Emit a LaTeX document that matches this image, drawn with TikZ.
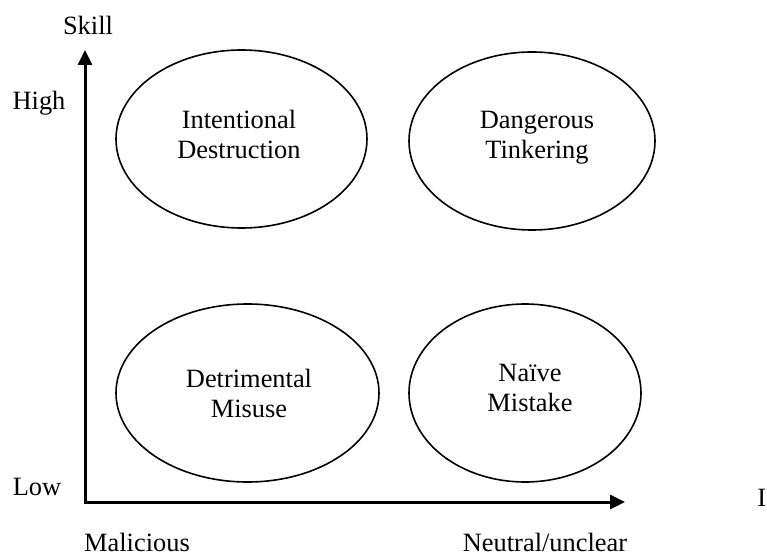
\documentclass[tikz,border=0pt]{standalone}
\usepackage{fontspec}
\setmainfont{Liberation Serif}
\usetikzlibrary{arrows.meta,shapes.geometric}
\begin{document}
\begin{tikzpicture}[x=0.5pt,y=-0.5pt,
  font=\fontsize{13.2pt}{15pt}\selectfont,
  axisline/.style={line width=1.5pt, line join=miter,
    {Triangle[length=7.5pt,width=7pt]}-{Triangle[length=7.5pt,width=7pt]}},
  zone/.style={draw, ellipse, line width=0.8pt, inner sep=0pt},
  lbl/.style={inner sep=0pt, align=center}]
\useasboundingbox (0,0) rectangle (767,556);

% axes
\coordinate (ytip) at (85,50);
\coordinate (orig) at (85,502);
\coordinate (xtip) at (625,502);
\draw[axisline] (ytip) -- (orig) -- (xtip);

% axis labels
\node[lbl] (skill) at (88,25) {Skill};
\node[lbl] (high) at (39,103) {High};
\node[lbl] (low) at (37,487) {Low};
\node[lbl] (mal) at (137,542) {Malicious};
\node[lbl] (neu) at (545,542) {Neutral/unclear};
\node[lbl, anchor=west] (intent) at (757,498) {I};

% quadrants
\node[zone, minimum width=125.5pt, minimum height=89pt] (e1) at (241.5,139) {};
\node[zone, minimum width=123pt, minimum height=89pt] (e2) at (532,141) {};
\node[zone, minimum width=131.5pt, minimum height=89pt] (e3) at (247.5,393) {};
\node[zone, minimum width=116pt, minimum height=89pt] (e4) at (525,393) {};

\node[lbl] (t1) at (239,134) {Intentional\\Destruction};
\node[lbl] (t2) at (537,138) {Dangerous\\Tinkering};
\node[lbl] (t3) at (249,393) {Detrimental\\Misuse};
\node[lbl] (t4) at (530,388) {Naïve\\Mistake};
\end{tikzpicture}
\end{document}
